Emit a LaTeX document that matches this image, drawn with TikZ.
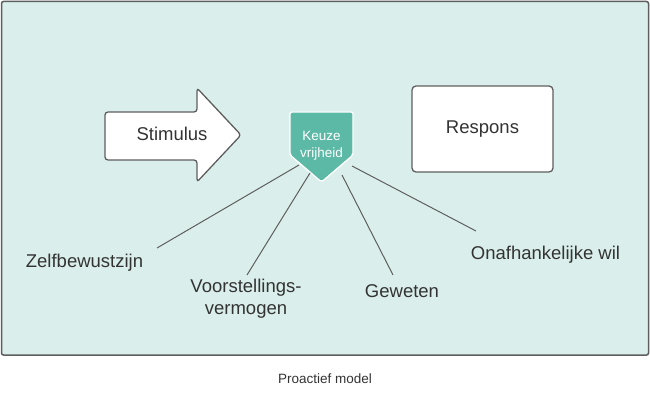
\documentclass[tikz,border=0pt]{standalone}
\usepackage{fontspec}
\setmainfont{Liberation Sans}
\definecolor{bgmint}{HTML}{DAEFEB}
\definecolor{teal}{HTML}{5CB9A5}
\definecolor{edge}{HTML}{5E5E5E}
\definecolor{txt}{HTML}{333333}
\begin{document}
\begin{tikzpicture}[x=1pt,y=-1pt,
  lbl/.style={text=txt,font=\fontsize{18.5}{22}\selectfont,align=center,inner sep=0pt},
  small/.style={font=\fontsize{13.5}{16.5}\selectfont,align=center,inner sep=0pt},
  conn/.style={draw=edge,line width=1pt},
  shapebox/.style={draw=edge,line width=1.3pt,fill=white,rounded corners=3pt}]
\useasboundingbox (0,0) rectangle (650,406);
% background panel
\draw[draw=edge,line width=1.5pt,fill=bgmint,rounded corners=2pt] (1.5,1.5) rectangle (648.5,355);
% stimulus arrow
\draw[shapebox] (105,112) -- (197,112) -- (197,88) -- (241,135) -- (197,182) -- (197,160) -- (105,160) -- cycle;
\node[lbl] (stim) at (172,134) {Stimulus};
% respons box
\draw[shapebox,rounded corners=4pt] (412,86) rectangle (553,172);
\node[lbl] (resp) at (482.5,129.5) {Respons};
% pentagon
\draw[draw=white,line width=1.3pt,fill=teal,rounded corners=2pt] (290,112) -- (353,112) -- (353,155) -- (321.5,182) -- (290,155) -- cycle;
\node[small,text=white] (keuze) at (321.5,146) {Keuze\\vrijheid};
% connector ends on pentagon
\coordinate (p1) at (299,165);
\coordinate (p2) at (310,173);
\coordinate (p3) at (342,175);
\coordinate (p4) at (352,166);
\coordinate (e1) at (157,248);
\coordinate (e2) at (247,275);
\coordinate (e3) at (393,275);
\coordinate (e4) at (476,231);
\draw[conn] (p1) -- (e1);
\draw[conn] (p2) -- (e2);
\draw[conn] (p3) -- (e3);
\draw[conn] (p4) -- (e4);
% labels
\node[lbl] (zelf) at (84.5,263) {Zelfbewustzijn};
\node[lbl] (voor) at (246,299) {Voorstellings-\\vermogen};
\node[lbl] (gew) at (402,291) {Geweten};
\node[lbl] (onaf) at (545.5,255) {Onafhankelijke wil};
\node[small,text=txt] (cap) at (325,379) {Proactief model};
\end{tikzpicture}
\end{document}
